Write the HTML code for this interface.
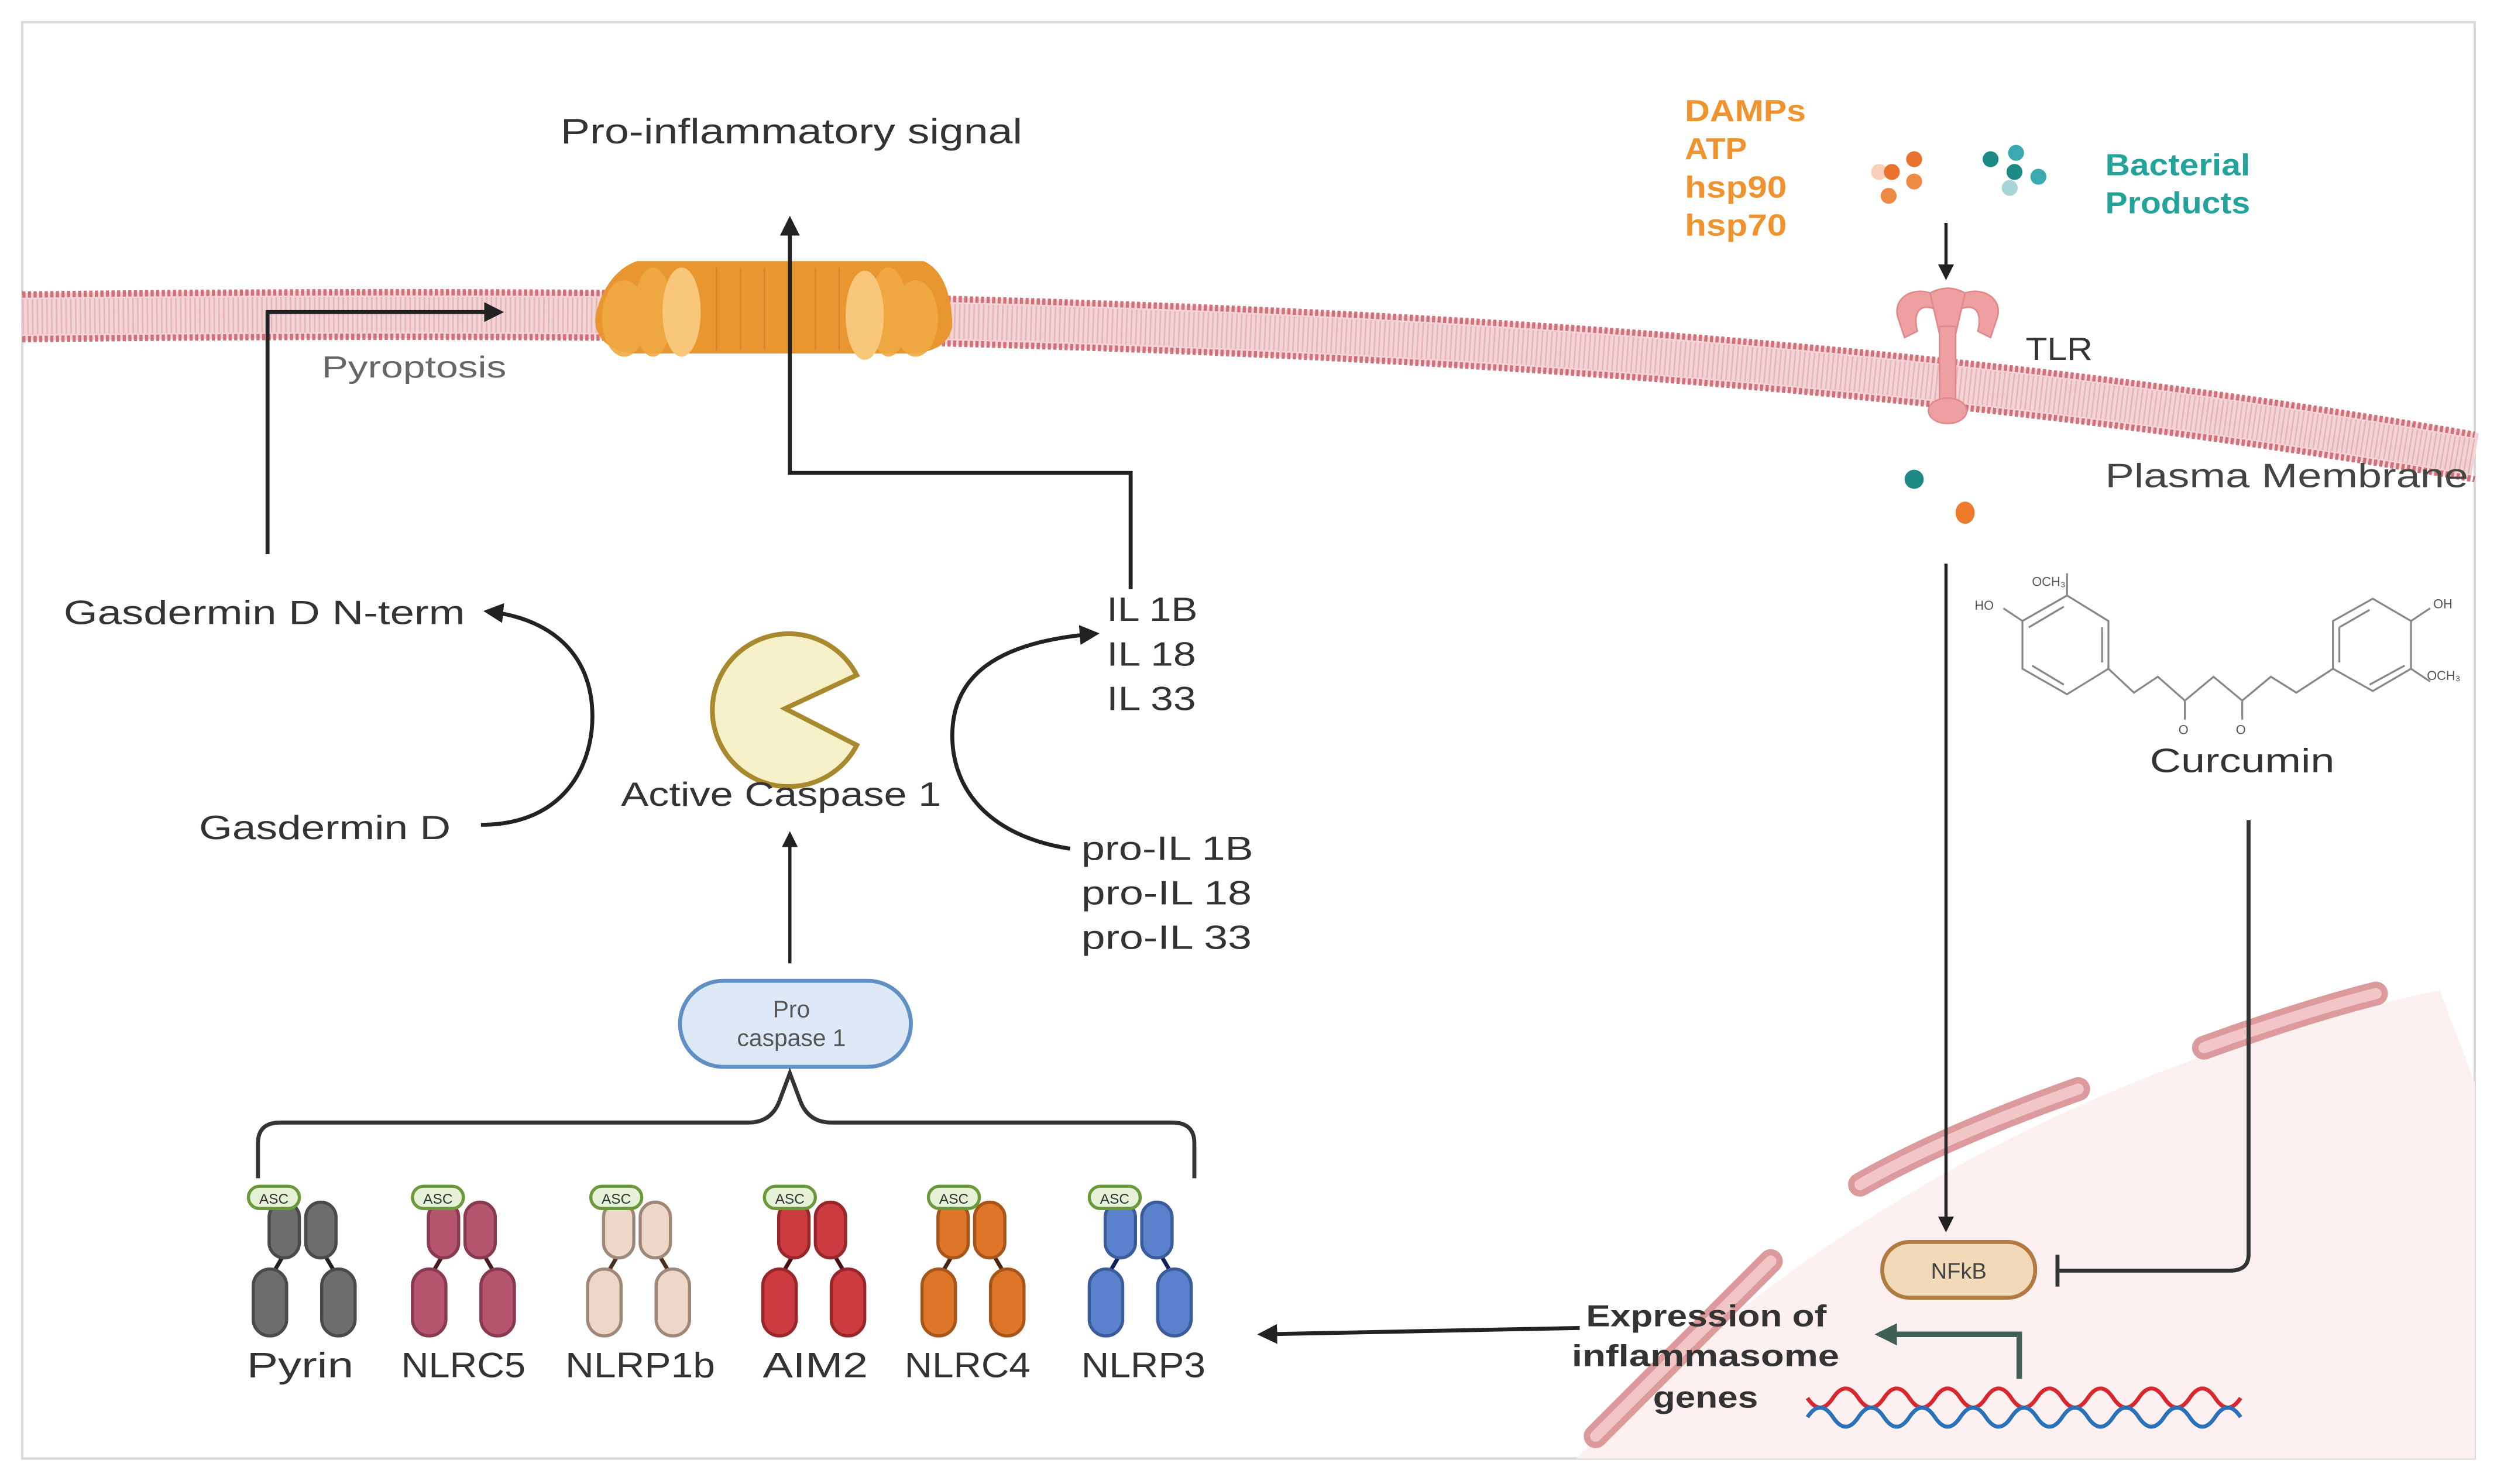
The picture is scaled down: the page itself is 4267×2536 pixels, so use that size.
<!DOCTYPE html>
<html><head><meta charset="utf-8"><style>
html,body{margin:0;padding:0;background:#fff;}
svg{display:block;}
text{font-family:"Liberation Sans",sans-serif;}
</style></head><body>
<svg width="4267" height="2536" viewBox="0 0 1568 932" preserveAspectRatio="none" xmlns="http://www.w3.org/2000/svg">
<defs>
<marker id="ah" viewBox="0 0 10 10" refX="8" refY="5" markerWidth="5" markerHeight="5" orient="auto-start-reverse"><path d="M0,0 L10,5 L0,10 z" fill="#222"/></marker>
<marker id="ag" viewBox="0 0 10 10" refX="8" refY="5" markerWidth="4" markerHeight="4" orient="auto"><path d="M0,0 L10,5 L0,10 z" fill="#3f5e55"/></marker>
</defs>
<rect x="0" y="0" width="1568" height="932" fill="#fff"/>
<rect x="14" y="14" width="1540" height="902" fill="none" stroke="#d8d8d8" stroke-width="1.5"/>

<!-- nucleus region -->
<path d="M990,916 C1120,780 1300,670 1532,622 L1554,680 L1554,916 Z" fill="#fdf0f0"/>
<g stroke="#dc9a9c" stroke-width="15" stroke-linecap="round" fill="none">
<path d="M1002,902 L1112,792"/>
<path d="M1168,744 C1210,720 1260,700 1305,684"/>
<path d="M1384,658 C1420,645 1460,632 1492,624"/>
</g>
<g stroke="#f2c6c7" stroke-width="7" stroke-linecap="round" fill="none">
<path d="M1002,902 L1112,792"/>
<path d="M1168,744 C1210,720 1260,700 1305,684"/>
<path d="M1384,658 C1420,645 1460,632 1492,624"/>
</g>

<!-- plasma membrane -->
<path d="M14,199 C600,192 1100,208 1554,287" fill="none" stroke="#f3d4d6" stroke-width="30"/>
<path d="M14,199 C600,192 1100,208 1554,287" fill="none" stroke="#e8b4b8" stroke-width="22" stroke-dasharray="1 2"/>
<path d="M14,185 C600,178 1100,194 1554,273" fill="none" stroke="#d0707a" stroke-width="4" stroke-dasharray="2 1.5"/>
<path d="M14,213 C600,206 1100,222 1554,301" fill="none" stroke="#d0707a" stroke-width="4" stroke-dasharray="2 1.5"/>

<!-- pore -->
<g>
<path d="M374,198 C378,180 388,168 400,164 L580,164 C594,170 598,190 598,205 C596,215 588,222 570,222 L400,222 C384,222 372,212 374,198 Z" fill="#e8962f"/>
<g fill="#f0a945" opacity="0.9">
<ellipse cx="392" cy="200" rx="14" ry="24"/><ellipse cx="410" cy="196" rx="12" ry="28"/>
<ellipse cx="575" cy="200" rx="14" ry="24"/><ellipse cx="558" cy="196" rx="12" ry="28"/>
</g>
<ellipse cx="428" cy="196" rx="12" ry="28" fill="#f8c77a"/>
<ellipse cx="543" cy="198" rx="12" ry="28" fill="#f8c77a"/>
<g stroke="#d8842a" stroke-width="1" fill="none">
<path d="M450,168 L450,220 M465,168 L465,220 M480,168 L480,220 M512,168 L512,220 M527,168 L527,220"/>
</g>
</g>

<!-- Left pathway -->
<text x="352" y="90" font-size="22" fill="#333" textLength="290" lengthAdjust="spacingAndGlyphs">Pro-inflammatory signal</text>
<path d="M710,370 L710,297 L496,297 L496,138" fill="none" stroke="#222" stroke-width="2.5" marker-end="url(#ah)"/>
<path d="M168,348 L168,196 L314,196" fill="none" stroke="#222" stroke-width="2.5" marker-end="url(#ah)"/>
<text x="202" y="237" font-size="19" fill="#666" textLength="116" lengthAdjust="spacingAndGlyphs">Pyroptosis</text>

<text x="40" y="392" font-size="21" fill="#333" textLength="252" lengthAdjust="spacingAndGlyphs">Gasdermin D N-term</text>
<text x="125" y="527" font-size="21" fill="#333" textLength="158" lengthAdjust="spacingAndGlyphs">Gasdermin D</text>
<path d="M302,518 C355,518 372,480 372,450 C372,410 345,388 306,384" fill="none" stroke="#222" stroke-width="2.5" marker-end="url(#ah)"/>

<path d="M495,445 L540,424 A48,48 0 1 0 540,468 Z" fill="#f6f1c8" stroke="#a8892e" stroke-width="3" transform="translate(-2,0)"/>
<text x="390" y="506" font-size="21" fill="#333" textLength="201" lengthAdjust="spacingAndGlyphs">Active Caspase 1</text>
<path d="M496,605 L496,524" fill="none" stroke="#222" stroke-width="2" marker-end="url(#ah)"/>

<g font-size="21" fill="#333">
<text x="695" y="390" textLength="57" lengthAdjust="spacingAndGlyphs">IL 1B</text>
<text x="695" y="418" textLength="56" lengthAdjust="spacingAndGlyphs">IL 18</text>
<text x="695" y="446" textLength="56" lengthAdjust="spacingAndGlyphs">IL 33</text>
</g>
<path d="M672,533 C620,525 598,495 598,462 C598,425 625,403 688,398" fill="none" stroke="#222" stroke-width="2.5" marker-end="url(#ah)"/>
<g font-size="21" fill="#333">
<text x="679" y="540" textLength="108" lengthAdjust="spacingAndGlyphs">pro-IL 1B</text>
<text x="679" y="568" textLength="107" lengthAdjust="spacingAndGlyphs">pro-IL 18</text>
<text x="679" y="596" textLength="107" lengthAdjust="spacingAndGlyphs">pro-IL 33</text>
</g>

<rect x="427" y="616" width="145" height="54" rx="27" fill="#dde9f6" stroke="#5f8fc4" stroke-width="2.5"/>
<text x="497" y="639" font-size="15" fill="#555" text-anchor="middle">Pro</text>
<text x="497" y="657" font-size="15" fill="#555" text-anchor="middle">caspase 1</text>

<path d="M162,740 L162,718 Q162,705 176,705 L470,705 Q485,705 490,690 L496,674 L502,690 Q507,705 522,705 L736,705 Q750,705 750,718 L750,740" fill="none" stroke="#333" stroke-width="2.5"/>

<!-- proteins -->
<g stroke-width="2">
<g transform="translate(190,0)" fill="#6d6d6d" stroke="#4a4a4a">
<line x1="-10" y1="785" x2="-20" y2="802" stroke="#222" stroke-width="2.5"/><line x1="12" y1="785" x2="22" y2="802" stroke="#222" stroke-width="2.5"/>
<rect x="-21" y="755" width="19" height="35" rx="9.5"/><rect x="2" y="755" width="19" height="35" rx="9.5"/>
<rect x="-31" y="797" width="21" height="42" rx="10.5"/><rect x="12" y="797" width="21" height="42" rx="10.5"/>
</g>
<g transform="translate(290,0)" fill="#b5566e" stroke="#8a3a50">
<line x1="-10" y1="785" x2="-20" y2="802" stroke="#4a1a20" stroke-width="2.5"/><line x1="12" y1="785" x2="22" y2="802" stroke="#4a1a20" stroke-width="2.5"/>
<rect x="-21" y="755" width="19" height="35" rx="9.5"/><rect x="2" y="755" width="19" height="35" rx="9.5"/>
<rect x="-31" y="797" width="21" height="42" rx="10.5"/><rect x="12" y="797" width="21" height="42" rx="10.5"/>
</g>
<g transform="translate(400,0)" fill="#ecd7c8" stroke="#a08878">
<line x1="-10" y1="785" x2="-20" y2="802" stroke="#4a3020" stroke-width="2.5"/><line x1="12" y1="785" x2="22" y2="802" stroke="#4a3020" stroke-width="2.5"/>
<rect x="-21" y="755" width="19" height="35" rx="9.5"/><rect x="2" y="755" width="19" height="35" rx="9.5"/>
<rect x="-31" y="797" width="21" height="42" rx="10.5"/><rect x="12" y="797" width="21" height="42" rx="10.5"/>
</g>
<g transform="translate(510,0)" fill="#cc3b40" stroke="#98262a">
<line x1="-10" y1="785" x2="-20" y2="802" stroke="#4a1010" stroke-width="2.5"/><line x1="12" y1="785" x2="22" y2="802" stroke="#4a1010" stroke-width="2.5"/>
<rect x="-21" y="755" width="19" height="35" rx="9.5"/><rect x="2" y="755" width="19" height="35" rx="9.5"/>
<rect x="-31" y="797" width="21" height="42" rx="10.5"/><rect x="12" y="797" width="21" height="42" rx="10.5"/>
</g>
<g transform="translate(610,0)" fill="#dd7628" stroke="#a8551a">
<line x1="-10" y1="785" x2="-20" y2="802" stroke="#4a2510" stroke-width="2.5"/><line x1="12" y1="785" x2="22" y2="802" stroke="#4a2510" stroke-width="2.5"/>
<rect x="-21" y="755" width="19" height="35" rx="9.5"/><rect x="2" y="755" width="19" height="35" rx="9.5"/>
<rect x="-31" y="797" width="21" height="42" rx="10.5"/><rect x="12" y="797" width="21" height="42" rx="10.5"/>
</g>
<g transform="translate(715,0)" fill="#5a82cc" stroke="#3a5c9a">
<line x1="-10" y1="785" x2="-20" y2="802" stroke="#10205a" stroke-width="2.5"/><line x1="12" y1="785" x2="22" y2="802" stroke="#10205a" stroke-width="2.5"/>
<rect x="-21" y="755" width="19" height="35" rx="9.5"/><rect x="2" y="755" width="19" height="35" rx="9.5"/>
<rect x="-31" y="797" width="21" height="42" rx="10.5"/><rect x="12" y="797" width="21" height="42" rx="10.5"/>
</g>
</g>
<g fill="#e6f2d8" stroke="#6a9a3a" stroke-width="2">
<rect x="156" y="745" width="32" height="14" rx="7"/>
<rect x="259" y="745" width="32" height="14" rx="7"/>
<rect x="371" y="745" width="32" height="14" rx="7"/>
<rect x="480" y="745" width="32" height="14" rx="7"/>
<rect x="583" y="745" width="32" height="14" rx="7"/>
<rect x="684" y="745" width="32" height="14" rx="7"/>
</g>
<g font-size="9" fill="#333" text-anchor="middle">
<text x="172" y="756">ASC</text><text x="275" y="756">ASC</text><text x="387" y="756">ASC</text>
<text x="496" y="756">ASC</text><text x="599" y="756">ASC</text><text x="700" y="756">ASC</text>
</g>
<g font-size="22" fill="#333">
<text x="155" y="865" textLength="67" lengthAdjust="spacingAndGlyphs">Pyrin</text>
<text x="252" y="865" textLength="78" lengthAdjust="spacingAndGlyphs">NLRC5</text>
<text x="355" y="865" textLength="94" lengthAdjust="spacingAndGlyphs">NLRP1b</text>
<text x="479" y="865" textLength="66" lengthAdjust="spacingAndGlyphs">AIM2</text>
<text x="568" y="865" textLength="79" lengthAdjust="spacingAndGlyphs">NLRC4</text>
<text x="679" y="865" textLength="78" lengthAdjust="spacingAndGlyphs">NLRP3</text>
</g>

<path d="M992,834 L792,838" fill="none" stroke="#222" stroke-width="2.5" marker-end="url(#ah)"/>
<g font-size="19" font-weight="bold" fill="#333">
<text x="996" y="833" textLength="151" lengthAdjust="spacingAndGlyphs">Expression of</text>
<text x="987" y="858" textLength="168" lengthAdjust="spacingAndGlyphs">inflammasome</text>
<text x="1038" y="884" textLength="66" lengthAdjust="spacingAndGlyphs">genes</text>
</g>
<path d="M1268,866 L1268,838 L1180,838" fill="none" stroke="#3f5e55" stroke-width="3.5" marker-end="url(#ag)"/>

<!-- DNA -->
<path d="M1135,878 q8,12 16,0 t16,0 t16,0 t16,0 t16,0 t16,0 t16,0 t16,0 t16,0 t16,0 t16,0 t16,0 t16,0 t16,0 t16,0 t16,0 t16,0" fill="none" stroke="#d8282e" stroke-width="2.5"/>
<path d="M1135,890 q8,-12 16,0 t16,0 t16,0 t16,0 t16,0 t16,0 t16,0 t16,0 t16,0 t16,0 t16,0 t16,0 t16,0 t16,0 t16,0 t16,0 t16,0" fill="none" stroke="#2a72b8" stroke-width="2.5"/>

<!-- right pathway -->
<g font-size="19" font-weight="bold" fill="#f0932f">
<text x="1058" y="76" textLength="76" lengthAdjust="spacingAndGlyphs">DAMPs</text>
<text x="1058" y="100" textLength="39" lengthAdjust="spacingAndGlyphs">ATP</text>
<text x="1058" y="124" textLength="64" lengthAdjust="spacingAndGlyphs">hsp90</text>
<text x="1058" y="148" textLength="64" lengthAdjust="spacingAndGlyphs">hsp70</text>
</g>
<g font-size="19" font-weight="bold" fill="#23a39a">
<text x="1322" y="110" textLength="91" lengthAdjust="spacingAndGlyphs">Bacterial</text>
<text x="1322" y="134" textLength="91" lengthAdjust="spacingAndGlyphs">Products</text>
</g>
<g>
<circle cx="1180" cy="108" r="5" fill="#f8d0b8"/>
<circle cx="1188" cy="108" r="5" fill="#e8722e"/><circle cx="1202" cy="100" r="5" fill="#e8722e"/>
<circle cx="1202" cy="114" r="5" fill="#ef8a45"/><circle cx="1186" cy="123" r="5" fill="#ef8a45"/>
<circle cx="1250" cy="100" r="5" fill="#1e8a86"/><circle cx="1266" cy="96" r="5" fill="#3aaab0"/>
<circle cx="1265" cy="108" r="5" fill="#1e8a86"/><circle cx="1280" cy="111" r="5" fill="#3aaab0"/>
<circle cx="1262" cy="118" r="5" fill="#a8d6d6"/>
</g>
<path d="M1222,140 L1222,174" fill="none" stroke="#222" stroke-width="2" marker-end="url(#ah)"/>

<!-- TLR -->
<g fill="#ee9fa0" stroke="#e08a8c" stroke-width="1">
<path d="M1192,200 C1188,188 1200,180 1212,184 L1218,196 C1210,190 1200,192 1204,208 L1196,212 Z"/>
<path d="M1254,200 C1258,188 1246,180 1234,184 L1228,196 C1236,190 1246,192 1242,208 L1250,212 Z"/>
<path d="M1212,184 C1220,180 1226,180 1234,184 L1228,210 L1218,210 Z"/>
<rect x="1218" y="205" width="10" height="50"/>
<ellipse cx="1223" cy="258" rx="12" ry="8"/>
</g>
<text x="1272" y="226" font-size="20" fill="#333" textLength="42" lengthAdjust="spacingAndGlyphs">TLR</text>
<text x="1322" y="306" font-size="21" fill="#444" textLength="228" lengthAdjust="spacingAndGlyphs">Plasma Membrane</text>
<circle cx="1202" cy="301" r="6" fill="#1e8a86"/>
<ellipse cx="1234" cy="322" rx="6" ry="7" fill="#ee7a2e"/>

<path d="M1222,354 L1222,772" fill="none" stroke="#222" stroke-width="2" marker-end="url(#ah)"/>
<path d="M1412,515 L1412,788 Q1412,798 1400,798 L1292,798 M1292,788 L1292,808" fill="none" stroke="#333" stroke-width="2.5"/>
<rect x="1182" y="780" width="96" height="35" rx="17" fill="#f2d9b8" stroke="#b07a40" stroke-width="2.5"/>
<text x="1230" y="803" font-size="14" fill="#444" text-anchor="middle">NFkB</text>

<!-- curcumin -->
<g stroke="#888" stroke-width="1.2" fill="none">
<path d="M1270,390 L1298,374 L1324,390 L1324,420 L1298,436 L1270,420 Z"/>
<path d="M1274,394 L1296,381 M1320,394 L1320,416 M1276,418 L1296,430"/>
<path d="M1298,374 L1298,360 M1270,390 L1258,382"/>
<path d="M1324,420 L1340,435 L1355,425 L1372,440 L1390,425 L1408,440 L1426,425 L1442,435 L1465,420"/>
<path d="M1372,440 L1372,452 M1408,440 L1408,452"/>
<path d="M1465,390 L1490,376 L1514,390 L1514,420 L1490,434 L1465,420 Z"/>
<path d="M1469,394 L1488,383 M1469,416 L1469,394 M1488,430 L1510,418"/>
<path d="M1514,390 L1526,382 M1514,420 L1526,428"/>
</g>
<g font-size="8" fill="#555">
<text x="1240" y="383">HO</text><text x="1276" y="368">OCH₃</text>
<text x="1528" y="382">OH</text><text x="1524" y="427">OCH₃</text>
<text x="1368" y="461">O</text><text x="1404" y="461">O</text>
</g>
<text x="1350" y="485" font-size="21" fill="#333" textLength="116" lengthAdjust="spacingAndGlyphs">Curcumin</text>
</svg>
</body></html>
